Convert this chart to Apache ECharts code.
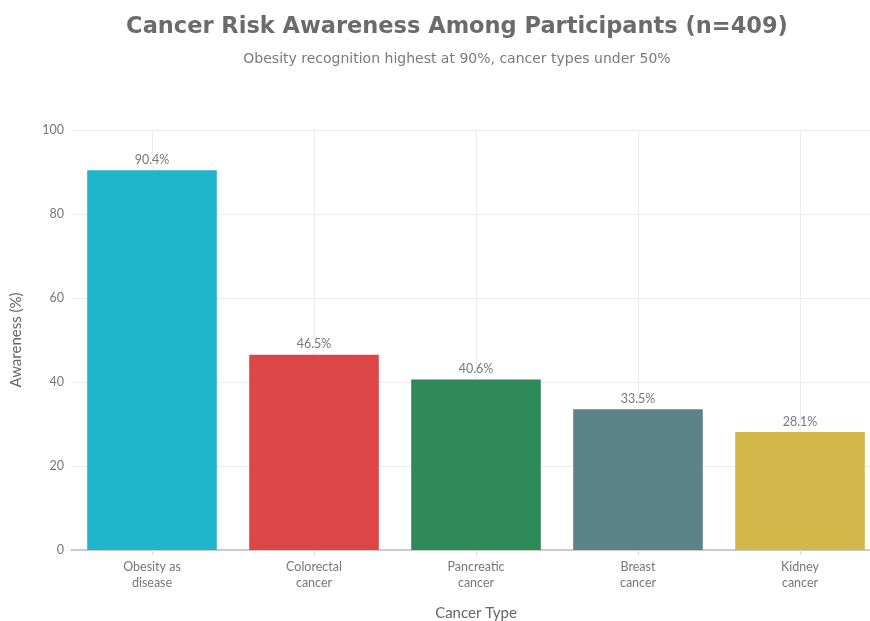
<!DOCTYPE html>
<html>
<head>
<meta charset="utf-8">
<script src="https://cdn.jsdelivr.net/npm/echarts@6/dist/echarts.min.js"></script>
<style>
  html, body { margin: 0; padding: 0; background: #ffffff; overflow: hidden; }
  #chart { width: 870px; height: 621px; }
</style>
</head>
<body>
<div id="chart"></div>
<script>
// Awareness of obesity-related cancer risks among survey participants
const categories = ['Obesity as\ndisease', 'Colorectal\ncancer', 'Pancreatic\ncancer', 'Breast\ncancer', 'Kidney\ncancer'];
const awareness = [90.4, 46.5, 40.6, 33.5, 28.1];
const barColors = ['#1fb5cb', '#dc4647', '#2e8a57', '#5b8388', '#d2b84b'];
const yTicks = [0, 20, 40, 60, 80, 100];

const chart = echarts.init(document.getElementById('chart'), null, { renderer: 'canvas' });

chart.setOption({
  backgroundColor: '#ffffff',
  animation: false,
  title: {
    text: 'Cancer Risk Awareness Among Participants (n=409)',
    subtext: 'Obesity recognition highest at 90%, cancer types under 50%',
    left: 452,
    textAlign: 'center',
    top: 11,
    itemGap: 13,
    textStyle: { fontFamily: 'DejaVu Sans', fontWeight: 'bold', fontSize: 22.5, color: '#6b6b6b' },
    subtextStyle: { fontFamily: 'DejaVu Sans', fontSize: 14, color: '#7a7a7a' }
  },
  // plot area runs a little past the right edge of the canvas
  grid: { left: 71, top: 130, width: 810, height: 420, containLabel: false, outerBoundsMode: 'none' },
  xAxis: {
    type: 'category',
    data: categories,
    name: 'Cancer Type',
    nameLocation: 'middle',
    nameGap: 56,
    nameTextStyle: { fontFamily: 'Lato', fontSize: 15, color: '#666666' },
    axisLine: { show: true, lineStyle: { color: '#bdbdbd', width: 1.5 } },
    axisTick: { show: true, alignWithLabel: true, length: 5, lineStyle: { color: '#d8d8d8' } },
    axisLabel: { fontFamily: 'Lato', fontSize: 12.5, color: '#777777', lineHeight: 16, margin: 9 },
    splitLine: { show: true, alignWithLabel: true, lineStyle: { color: '#ececec', width: 1 } }
  },
  yAxis: {
    type: 'value',
    min: yTicks[0],
    max: yTicks[yTicks.length - 1],
    interval: yTicks[1] - yTicks[0],
    name: 'Awareness (%)',
    nameLocation: 'middle',
    nameGap: 47,
    nameTextStyle: { fontFamily: 'Lato', fontSize: 15, color: '#666666' },
    axisLine: { show: false },
    axisTick: { show: false },
    axisLabel: { fontFamily: 'Lato', fontSize: 12.5, color: '#777777', margin: 7 },
    splitLine: { show: true, lineStyle: { color: '#ececec', width: 1 } }
  },
  series: [{
    type: 'bar',
    data: awareness.map((v, i) => ({ value: v, itemStyle: { color: barColors[i] } })),
    barCategoryGap: '20%',
    label: {
      show: true,
      position: 'top',
      distance: 4,
      formatter: p => p.value.toFixed(1) + '%',
      fontFamily: 'Lato',
      fontSize: 12.5,
      color: '#777777'
    }
  }]
});
</script>
</body>
</html>
